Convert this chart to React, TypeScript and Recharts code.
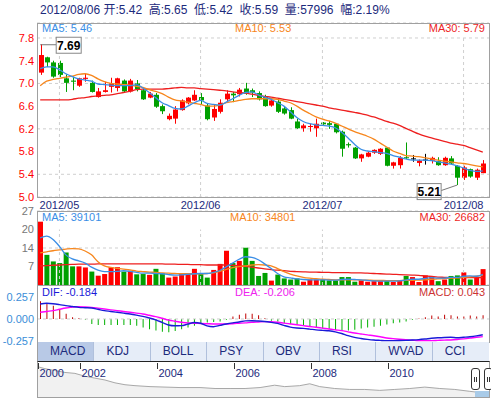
import React from "react";
import {
  ComposedChart,
  AreaChart,
  Area,
  Bar,
  Line,
  XAxis,
  YAxis,
  CartesianGrid,
  Cell,
  ReferenceDot,
  ReferenceLine,
} from "recharts";

const FONT = "Arial, 'Liberation Sans', 'Noto Sans CJK SC', sans-serif";

// trading days shown in the window
const dates = [
  "2012/04/25", "2012/04/26", "2012/04/27",
  "2012/05/02", "2012/05/03", "2012/05/04", "2012/05/07", "2012/05/08", "2012/05/09", "2012/05/10", "2012/05/11",
  "2012/05/14", "2012/05/15", "2012/05/16", "2012/05/17", "2012/05/18", "2012/05/21", "2012/05/22", "2012/05/23",
  "2012/05/24", "2012/05/25", "2012/05/28", "2012/05/29", "2012/05/30", "2012/05/31",
  "2012/06/01", "2012/06/04", "2012/06/05", "2012/06/06", "2012/06/07", "2012/06/08", "2012/06/11", "2012/06/12",
  "2012/06/13", "2012/06/14", "2012/06/15", "2012/06/18", "2012/06/19", "2012/06/20", "2012/06/25", "2012/06/26",
  "2012/06/27", "2012/06/28", "2012/06/29",
  "2012/07/02", "2012/07/03", "2012/07/04", "2012/07/05", "2012/07/06", "2012/07/09", "2012/07/10", "2012/07/11",
  "2012/07/12", "2012/07/13", "2012/07/16", "2012/07/17", "2012/07/18", "2012/07/19", "2012/07/20", "2012/07/23",
  "2012/07/24", "2012/07/25", "2012/07/26", "2012/07/27", "2012/07/30", "2012/07/31",
  "2012/08/01", "2012/08/02", "2012/08/03", "2012/08/06",
];
const monthTicks = ["2012/05/02", "2012/06/01", "2012/07/02", "2012/08/01"];

const opens = [
  7.19, 7.46, 7.37, 7.36, 7.09, 7.05, 6.96, 7.08, 7.01, 6.76,
  6.85, 6.94, 6.92, 7.05, 6.86, 7.0, 6.88, 6.75, 6.8, 6.6,
  6.37, 6.38, 6.53, 6.65, 6.7, 6.76, 6.61, 6.4, 6.5, 6.72,
  6.82, 6.81, 6.91, 6.88, 6.83, 6.76, 6.61, 6.68, 6.56, 6.53,
  6.33, 6.21, 6.24, 6.21, 6.31, 6.3, 6.29, 6.15, 5.93, 5.87,
  5.68, 5.71, 5.78, 5.76, 5.87, 5.55, 5.56, 5.7, 5.68, 5.6,
  5.66, 5.64, 5.63, 5.56, 5.68, 5.55, 5.34, 5.49, 5.34, 5.42,
];
const closes = [
  7.5, 7.37, 7.12, 7.15, 7.01, 7.03, 7.09, 7.1, 6.85, 6.86,
  6.88, 7.0, 7.09, 6.86, 7.05, 6.9, 6.72, 6.82, 6.59, 6.51,
  6.43, 6.54, 6.7, 6.75, 6.8, 6.7, 6.37, 6.55, 6.66, 6.82,
  6.79, 6.89, 6.82, 6.84, 6.72, 6.6, 6.7, 6.5, 6.47, 6.38,
  6.21, 6.26, 6.25, 6.29, 6.28, 6.27, 6.14, 5.85, 5.91, 5.68,
  5.75, 5.78, 5.83, 5.85, 5.55, 5.61, 5.69, 5.69, 5.68, 5.64,
  5.66, 5.69, 5.56, 5.69, 5.59, 5.34, 5.52, 5.36, 5.48, 5.59,
];
const highs = [
  7.69, 7.47, 7.4, 7.4, 7.16, 7.12, 7.1, 7.17, 7.05, 6.92,
  7.03, 7.1, 7.1, 7.07, 7.08, 7.06, 6.93, 6.85, 6.83, 6.63,
  6.47, 6.6, 6.72, 6.76, 6.88, 6.83, 6.65, 6.63, 6.72, 6.88,
  6.85, 6.92, 7.01, 6.91, 6.86, 6.8, 6.72, 6.73, 6.6, 6.58,
  6.38, 6.29, 6.29, 6.38, 6.32, 6.34, 6.3, 6.17, 5.96, 5.88,
  5.76, 5.8, 5.84, 5.86, 5.88, 5.62, 5.72, 5.96, 5.74, 5.66,
  5.76, 5.71, 5.7, 5.71, 5.72, 5.56, 5.55, 5.5, 5.5, 5.65,
];
const lows = [
  7.15, 7.29, 7.1, 7.11, 6.85, 6.88, 6.94, 7.03, 6.84, 6.75,
  6.84, 6.84, 6.86, 6.85, 6.84, 6.86, 6.71, 6.74, 6.57, 6.46,
  6.35, 6.29, 6.52, 6.63, 6.69, 6.62, 6.35, 6.34, 6.47, 6.68,
  6.67, 6.77, 6.8, 6.76, 6.7, 6.59, 6.59, 6.48, 6.45, 6.37,
  6.2, 6.15, 6.15, 6.06, 6.27, 6.2, 6.12, 5.71, 5.87, 5.67,
  5.62, 5.7, 5.76, 5.74, 5.54, 5.5, 5.5, 5.67, 5.62, 5.54,
  5.57, 5.59, 5.55, 5.55, 5.58, 5.21, 5.3, 5.34, 5.3, 5.42,
];
const ma5 = [
  7.26, 7.29, 7.29, 7.24, 7.17, 7.12, 7.08, 7.06, 7.04, 6.99,
  6.98, 6.97, 6.96, 6.96, 6.96, 6.98, 6.92, 6.84, 6.75, 6.66,
  6.61, 6.56, 6.55, 6.6, 6.66, 6.7, 6.65, 6.63, 6.62, 6.67,
  6.73, 6.79, 6.84, 6.85, 6.8, 6.76, 6.72, 6.66, 6.6, 6.5,
  6.4, 6.33, 6.29, 6.27, 6.26, 6.25, 6.22, 6.14, 6.04, 5.93,
  5.84, 5.81, 5.8, 5.78, 5.77, 5.73, 5.7, 5.67, 5.65, 5.65,
  5.65, 5.64, 5.62, 5.6, 5.58, 5.55, 5.51, 5.47, 5.45, 5.46,
];
const ma10 = [
  6.96, 7.04, 7.07, 7.09, 7.11, 7.13, 7.16, 7.17, 7.14, 7.08,
  7.03, 7.0, 6.99, 6.98, 6.97, 6.95, 6.93, 6.89, 6.86, 6.82,
  6.76, 6.71, 6.69, 6.67, 6.65, 6.63, 6.6, 6.6, 6.62, 6.66,
  6.68, 6.7, 6.72, 6.73, 6.73, 6.73, 6.73, 6.72, 6.69, 6.66,
  6.6, 6.53, 6.47, 6.41, 6.37, 6.34, 6.3, 6.25, 6.2, 6.15,
  6.11, 6.07, 6.02, 5.95, 5.88, 5.81, 5.77, 5.73, 5.72, 5.71,
  5.69, 5.67, 5.65, 5.63, 5.62, 5.6, 5.59, 5.57, 5.55, 5.53,
];
const ma30 = [
  6.71, 6.71, 6.71, 6.71, 6.71, 6.72, 6.74, 6.75, 6.77, 6.78,
  6.79, 6.8, 6.82, 6.84, 6.86, 6.89, 6.9, 6.9, 6.9, 6.9,
  6.91, 6.92, 6.93, 6.92, 6.92, 6.91, 6.9, 6.89, 6.88, 6.87,
  6.85, 6.84, 6.83, 6.81, 6.79, 6.77, 6.76, 6.74, 6.72, 6.7,
  6.68, 6.66, 6.64, 6.62, 6.6, 6.57, 6.55, 6.53, 6.51, 6.49,
  6.47, 6.44, 6.41, 6.37, 6.33, 6.3, 6.26, 6.21, 6.16, 6.11,
  6.07, 6.04, 6.01, 5.98, 5.95, 5.93, 5.91, 5.87, 5.83, 5.79,
];

// volume in 万 shares
const vols = [
  23.1, 11.0, 8.6, 8.0, 11.9, 6.8, 6.8, 6.4, 4.9, 3.4,
  4.0, 6.5, 6.5, 4.9, 5.2, 3.9, 4.0, 3.7, 5.9, 4.3,
  2.7, 3.1, 4.3, 4.3, 5.9, 4.0, 2.7, 5.5, 7.7, 12.5,
  8.0, 8.8, 13.6, 8.8, 3.3, 4.4, 1.6, 3.8, 2.4, 2.0,
  2.4, 1.2, 2.0, 2.0, 2.0, 1.7, 1.7, 2.9, 2.9, 1.2,
  1.7, 1.2, 1.4, 1.4, 1.7, 1.1, 1.7, 3.3, 2.9, 1.1,
  3.5, 3.3, 1.4, 2.0, 3.3, 3.5, 4.6, 2.0, 2.7, 5.8,
];
const volMa5 = [
  17.2, 17.8, 16.6, 14.1, 11.0, 9.5, 8.8, 8.0, 6.5, 5.4,
  4.9, 4.9, 5.0, 5.2, 5.0, 4.6, 4.3, 4.3, 4.2, 4.1,
  3.8, 3.6, 3.7, 3.9, 4.1, 4.2, 4.2, 4.6, 5.3, 6.6,
  8.0, 9.4, 10.3, 10.1, 9.2, 7.7, 6.0, 4.2, 3.0, 2.6,
  2.2, 2.0, 1.9, 1.9, 1.9, 1.8, 1.8, 2.0, 2.1, 2.0,
  1.9, 1.7, 1.5, 1.4, 1.4, 1.4, 1.5, 1.8, 2.1, 2.1,
  2.4, 2.7, 2.5, 2.5, 2.8, 2.8, 3.2, 3.3, 3.2, 3.9,
];
const volMa10 = [
  11.7, 12.1, 12.5, 12.8, 13.1, 13.3, 13.2, 12.4, 11.0, 8.5,
  7.0, 6.4, 6.1, 5.8, 5.5, 5.1, 4.9, 4.7, 4.6, 4.4,
  4.3, 4.2, 4.1, 4.1, 4.1, 4.1, 4.2, 4.4, 5.0, 5.7,
  6.3, 6.7, 7.0, 7.3, 7.4, 7.3, 7.0, 6.0, 4.9, 4.0,
  3.3, 2.8, 2.5, 2.3, 2.1, 2.0, 1.9, 1.9, 1.9, 1.9,
  1.8, 1.8, 1.7, 1.7, 1.6, 1.6, 1.6, 1.7, 1.7, 1.8,
  1.9, 2.1, 2.2, 2.3, 2.5, 2.6, 2.8, 3.0, 3.2, 3.5,
];
const volMa30 = [
  7.0, 7.1, 7.2, 7.3, 7.4, 7.5, 7.6, 7.6, 7.6, 7.7,
  7.7, 7.7, 7.7, 7.7, 7.7, 7.7, 7.7, 7.7, 7.7, 7.7,
  7.6, 7.6, 7.5, 7.5, 7.4, 7.4, 7.3, 7.3, 7.3, 7.3,
  7.2, 7.0, 6.8, 6.5, 6.2, 5.9, 5.6, 5.4, 5.2, 5.0,
  4.9, 4.8, 4.7, 4.7, 4.6, 4.6, 4.5, 4.5, 4.5, 4.4,
  4.4, 4.3, 4.2, 4.1, 4.0, 3.9, 3.8, 3.7, 3.6, 3.5,
  3.3, 3.1, 2.9, 2.8, 2.7, 2.7, 2.7, 2.7, 2.7, 2.7,
];

const dif = [
  0.175, 0.183, 0.178, 0.168, 0.156, 0.146, 0.136, 0.132, 0.128, 0.113,
  0.097, 0.088, 0.078, 0.068, 0.058, 0.045, 0.03, 0.012, -0.01, -0.04,
  -0.07, -0.08, -0.078, -0.06, -0.042, -0.05, -0.08, -0.09, -0.075, -0.058,
  -0.045, -0.035, -0.022, -0.02, -0.024, -0.03, -0.04, -0.052, -0.075, -0.095,
  -0.105, -0.11, -0.118, -0.127, -0.133, -0.138, -0.15, -0.17, -0.195, -0.215,
  -0.228, -0.238, -0.246, -0.25, -0.253, -0.253, -0.252, -0.25, -0.246, -0.241,
  -0.234, -0.226, -0.22, -0.216, -0.214, -0.22, -0.214, -0.208, -0.198, -0.184,
];
const dea = [
  0.078, 0.088, 0.097, 0.113, 0.128, 0.138, 0.144, 0.141, 0.136, 0.127,
  0.117, 0.107, 0.097, 0.088, 0.078, 0.068, 0.058, 0.043, 0.027, 0.008,
  -0.012, -0.026, -0.039, -0.045, -0.05, -0.052, -0.055, -0.058, -0.058, -0.058,
  -0.055, -0.05, -0.045, -0.039, -0.035, -0.031, -0.033, -0.039, -0.048, -0.058,
  -0.068, -0.078, -0.088, -0.097, -0.107, -0.117, -0.127, -0.136, -0.15, -0.164,
  -0.175, -0.186, -0.196, -0.208, -0.222, -0.23, -0.237, -0.243, -0.248, -0.253,
  -0.253, -0.253, -0.25, -0.247, -0.245, -0.24, -0.233, -0.224, -0.214, -0.206,
];
const macd = [
  0.206, 0.18, 0.155, 0.105, 0.06, 0.02, 0.01, -0.01, -0.06, -0.07,
  -0.07, -0.07, -0.07, -0.07, -0.07, -0.08, -0.1, -0.12, -0.135, -0.15,
  -0.156, -0.14, -0.12, -0.1, -0.08, -0.06, -0.04, -0.035, -0.03, -0.01,
  0.03, 0.05, 0.065, 0.06, 0.045, 0.01, -0.02, -0.03, -0.05, -0.06,
  -0.07, -0.075, -0.085, -0.095, -0.11, -0.12, -0.13, -0.14, -0.135, -0.125,
  -0.11, -0.1, -0.09, -0.08, -0.065, -0.05, -0.04, -0.03, -0.01, 0.005,
  0.02, 0.04, 0.03, 0.05, 0.045, 0.03, 0.03, 0.04, 0.03, 0.043,
];

// long history for the navigator strip
const navYears = [
  2000.91, 2001.09, 2001.35, 2001.61, 2001.87, 2002.13, 2002.39, 2002.65, 2002.91, 2003.17,
  2003.43, 2003.82, 2004.21, 2004.6, 2005.12, 2005.51, 2005.9, 2006.29, 2006.68, 2007.06,
  2007.32, 2007.71, 2007.97, 2008.23, 2008.62, 2009.01, 2009.4, 2009.79, 2010.18, 2010.57,
  2010.96, 2011.35, 2011.74, 2012.13, 2012.55,
];
const navPrices = [
  32, 30, 28, 26, 25, 22, 20, 18, 15, 13,
  12, 11, 10.5, 10, 10, 9, 9, 9, 10, 12.5,
  11, 12, 14, 11, 9, 8, 8, 7, 8, 9,
  10.5, 9, 8, 6, 4,
];
const navTicks = [navYears[0], 2002, 2004, 2006, 2008, 2010];

const tabs = ["MACD", "KDJ", "BOLL", "PSY", "OBV", "RSI", "WVAD", "CCI"];

const rows = dates.map((date, i) => ({
  date,
  open: opens[i],
  high: highs[i],
  low: lows[i],
  close: closes[i],
  ma5: ma5[i],
  ma10: ma10[i],
  ma30: ma30[i],
  vol: vols[i],
  vma5: volMa5[i],
  vma10: volMa10[i],
  vma30: volMa30[i],
  dif: dif[i],
  dea: dea[i],
  macd: macd[i],
}));
const navRows = navYears.map((t, i) => ({ t, v: navPrices[i] }));
const navNav = navRows; // keep reference simple

const W = 491;
const RED = "#ff0000";
const GREEN = "#00a000";
const NAVY = "#1c2a7c";
const GRID = "#cfcfcf";
const FRAME = "#a0a0a0";
const C_MA5 = "#3a8ee6";
const C_MA10 = "#f7861c";
const C_MA30 = "#ee1f1f";

const hiIdx = highs.indexOf(Math.max(...highs));
const loIdx = lows.indexOf(Math.min(...lows));

const candleColor = (d: any) => (d.close > d.open ? RED : d.close < d.open ? GREEN : "#000");

function Candle(props: any) {
  const { x, y, width, height, payload } = props;
  if (x == null || !payload) return null;
  const { open, close, high, low } = payload;
  const span = high - low || 1;
  const h = Math.abs(height);
  const top = Math.min(y, y + height);
  const py = (v: number) => top + ((high - v) / span) * h;
  const bTop = py(Math.max(open, close));
  const bBot = py(Math.min(open, close));
  const c = candleColor(payload);
  const cx = Math.round(x + width / 2) + 0.5;
  return (
    <g>
      <line x1={cx} x2={cx} y1={top} y2={top + h} stroke={c} strokeWidth={1} />
      <rect x={cx - 2.5} y={bTop} width={5} height={Math.max(bBot - bTop, 1)} fill={c} />
    </g>
  );
}

function HighTag({ cx, cy, text }: any) {
  if (cx == null) return null;
  return (
    <g>
      <line x1={cx} y1={cy + 0.5} x2={cx + 16} y2={cy + 0.5} stroke="#777" />
      <rect x={cx + 16} y={cy - 7} width={25} height={16} fill="#fff" stroke="#888" />
      <text x={cx + 28.5} y={cy + 5.5} textAnchor="middle" fontSize={12} fontWeight="bold" fontFamily={FONT} fill="#000">
        {text}
      </text>
    </g>
  );
}

function LowTag({ cx, cy, text }: any) {
  if (cx == null) return null;
  return (
    <g>
      <line x1={cx} y1={cy} x2={cx - 16} y2={cy + 5.5} stroke="#777" />
      <rect x={cx - 40} y={cy - 1.5} width={24} height={16} fill="#fff" stroke="#888" />
      <text x={cx - 28} y={cy + 11} textAnchor="middle" fontSize={12} fontWeight="bold" fontFamily={FONT} fill="#000">
        {text}
      </text>
    </g>
  );
}

function NavTick(props: any) {
  const { x, payload } = props;
  const px = Math.round(x) + 0.5;
  return (
    <g>
      <line x1={px} x2={px} y1={1} y2={7} stroke="#333" />
      <text x={px + 1} y={15} fontSize={11} fontFamily={FONT} fill={NAVY}>
        {Math.floor(payload.value)}
      </text>
    </g>
  );
}

const legend = (top: number, items: { text: string; color: string; left?: number; right?: number }[]) =>
  items.map((it, i) => (
    <div
      key={i}
      style={{
        position: "absolute",
        top,
        left: it.left,
        right: it.right,
        fontSize: 11,
        lineHeight: "13px",
        color: it.color,
        fontFamily: FONT,
        whiteSpace: "nowrap",
      }}
    >
      {it.text}
    </div>
  ));

const axisTick = (fill: string) => ({ fill, fontSize: 11, fontFamily: FONT });

export default function App() {
  return (
    <div style={{ position: "absolute", left: 0, top: 0, width: W, height: 399, background: "#fff", overflow: "hidden" }}>
      <div
        style={{
          position: "absolute",
          left: 40,
          top: 3,
          fontSize: 12,
          lineHeight: "14px",
          color: NAVY,
          fontFamily: FONT,
          whiteSpace: "pre",
        }}
      >
        2012/08/06 开:5.42  高:5.65  低:5.42  收:5.59  量:57996  幅:2.19%
      </div>

      {/* price */}
      <div style={{ position: "absolute", left: 0, top: 0 }}>
        <ComposedChart width={W} height={215} data={rows} margin={{ top: 23, right: 2, bottom: 0, left: 0 }}>
          <CartesianGrid stroke={GRID} strokeDasharray="3 3" vertical={false} />
          <XAxis
            dataKey="date"
            ticks={monthTicks}
            interval={0}
            tickFormatter={(d: string) => d.slice(0, 7)}
            height={18}
            padding={{ left: 0, right: 3 }}
            axisLine={false}
            tickLine={false}
            tickSize={4}
            tickMargin={0}
            tick={axisTick(NAVY)}
          />
          <YAxis
            domain={[5.0, 8.064]}
            ticks={[5.0, 5.4, 5.8, 6.2, 6.6, 7.0, 7.4, 7.8]}
            tickFormatter={(v: number) => v.toFixed(1)}
            width={37}
            axisLine={false}
            tickLine={false}
            tickSize={3}
            tickMargin={0}
            tick={axisTick(RED)}
          />
          {monthTicks.map((m) => (
            <ReferenceLine
              key={m}
              segment={[
                { x: m, y: 5.0 },
                { x: m, y: 7.8 },
              ]}
              stroke={GRID}
              strokeDasharray="3 3"
            />
          ))}
          <Bar
            dataKey={(d: any) => [d.low, d.high]}
            barSize={5}
            isAnimationActive={false}
            shape={(p: any) => <Candle {...p} />}
          />
          <Line dataKey="ma30" type="monotone" stroke={C_MA30} strokeWidth={1.3} dot={false} isAnimationActive={false} />
          <Line dataKey="ma10" type="monotone" stroke={C_MA10} strokeWidth={1.3} dot={false} isAnimationActive={false} />
          <Line dataKey="ma5" type="monotone" stroke={C_MA5} strokeWidth={1.3} dot={false} isAnimationActive={false} />
          <ReferenceDot
            x={dates[hiIdx]}
            y={highs[hiIdx]}
            r={0}
            ifOverflow="visible"
            shape={(p: any) => <HighTag {...p} text={highs[hiIdx].toFixed(2)} />}
          />
          <ReferenceDot
            x={dates[loIdx]}
            y={lows[loIdx]}
            r={0}
            ifOverflow="visible"
            shape={(p: any) => <LowTag {...p} text={lows[loIdx].toFixed(2)} />}
          />
        </ComposedChart>
      </div>

      {/* volume */}
      <div style={{ position: "absolute", left: 0, top: 203 }}>
        <ComposedChart width={W} height={83} data={rows} margin={{ top: 8, right: 2, bottom: 1, left: 0 }}>
          <CartesianGrid stroke={GRID} strokeDasharray="3 3" vertical={false} />
          <XAxis
            dataKey="date"
            ticks={monthTicks}
            interval={0}
            height={0}
            tick={false}
            axisLine={false}
            tickLine={false}
            padding={{ left: 0, right: 3 }}
          />
          <YAxis
            domain={[0, 27]}
            ticks={[0, 6.75, 13.5, 20.25, 27]}
            tickFormatter={(v: number) => (v === 0 ? "x万" : String(Math.round(v)))}
            width={37}
            axisLine={false}
            tickLine={false}
            tickSize={3}
            tickMargin={0}
            tick={axisTick("#777")}
          />
          {monthTicks.map((m) => (
            <ReferenceLine
              key={m}
              segment={[
                { x: m, y: 0 },
                { x: m, y: 20.25 },
              ]}
              stroke={GRID}
              strokeDasharray="3 3"
            />
          ))}
          <Bar dataKey="vol" barSize={5} isAnimationActive={false}>
            {rows.map((d, i) => (
              <Cell key={i} fill={d.close >= d.open ? RED : GREEN} />
            ))}
          </Bar>
          <Line dataKey="vma30" type="monotone" stroke={C_MA30} strokeWidth={1.3} dot={false} isAnimationActive={false} />
          <Line dataKey="vma10" type="monotone" stroke={C_MA10} strokeWidth={1.3} dot={false} isAnimationActive={false} />
          <Line dataKey="vma5" type="monotone" stroke={C_MA5} strokeWidth={1.3} dot={false} isAnimationActive={false} />
        </ComposedChart>
      </div>

      {/* macd */}
      <div style={{ position: "absolute", left: 0, top: 280 }}>
        <ComposedChart width={W} height={70} data={rows} margin={{ top: 5, right: 2, bottom: 8, left: 0 }}>
          <XAxis
            dataKey="date"
            height={0}
            tick={false}
            axisLine={false}
            tickLine={false}
            padding={{ left: 0, right: 3 }}
          />
          <YAxis
            domain={[-0.269, 0.397]}
            ticks={[-0.257, 0, 0.257]}
            tickFormatter={(v: number) => v.toFixed(3)}
            width={37}
            axisLine={false}
            tickLine={false}
            tickSize={3}
            tickMargin={0}
            tick={axisTick("#3a8ed8")}
          />
          <ReferenceLine y={0} stroke={GRID} strokeDasharray="3 3" />
          <Bar dataKey="macd" barSize={1} isAnimationActive={false}>
            {rows.map((d, i) => (
              <Cell key={i} fill={d.macd >= 0 ? "#c00000" : "#00b000"} />
            ))}
          </Bar>
          <Line dataKey="dea" type="monotone" stroke="#ff00ff" strokeWidth={1.4} dot={false} isAnimationActive={false} />
          <Line dataKey="dif" type="monotone" stroke="#1a1ad8" strokeWidth={1.4} dot={false} isAnimationActive={false} />
        </ComposedChart>
      </div>

      {/* frames */}
      <div style={{ position: "absolute", left: 37, top: 23, width: 453, height: 175, border: `1px solid ${FRAME}`, boxSizing: "border-box" }} />
      <div style={{ position: "absolute", left: 37, top: 211, width: 453, height: 75, border: `1px solid ${FRAME}`, boxSizing: "border-box" }} />
      <div style={{ position: "absolute", left: 37, top: 285, width: 453, height: 58, border: `1px solid ${FRAME}`, boxSizing: "border-box" }} />

      {legend(22, [
        { text: "MA5: 5.46", color: C_MA5, left: 42 },
        { text: "MA10: 5.53", color: C_MA10, left: 235 },
        { text: "MA30: 5.79", color: C_MA30, right: 6 },
      ])}
      {legend(211, [
        { text: "MA5: 39101", color: C_MA5, left: 42 },
        { text: "MA10: 34801", color: C_MA10, left: 230 },
        { text: "MA30: 26682", color: C_MA30, right: 6 },
      ])}
      {legend(286, [
        { text: "DIF: -0.184", color: "#1a1ad8", left: 42 },
        { text: "DEA: -0.206", color: "#ee22ee", left: 235 },
        { text: "MACD: 0.043", color: "#cc3333", right: 6 },
      ])}

      {/* indicator tabs */}
      <div
        style={{
          position: "absolute",
          left: 37,
          top: 342,
          width: 452,
          height: 19,
          display: "flex",
          background: "#e6edf8",
          borderLeft: `1px solid ${FRAME}`,
          boxSizing: "border-box",
        }}
      >
        {tabs.map((t, i) => (
          <div
            key={t}
            style={{
              width: 56.5,
              height: 19,
              boxSizing: "border-box",
              paddingLeft: 12,
              fontSize: 12,
              lineHeight: "19px",
              color: NAVY,
              fontFamily: FONT,
              background: i === 0 ? "#b8c9e6" : "transparent",
              borderRight: i < tabs.length - 1 ? "1px solid #b0c0dc" : "none",
            }}
          >
            {t}
          </div>
        ))}
      </div>

      {/* navigator */}
      <div
        style={{
          position: "absolute",
          left: 37,
          top: 361,
          width: 453,
          height: 37,
          borderTop: "1px solid #222",
          borderLeft: `1px solid ${FRAME}`,
          borderRight: `1px solid ${FRAME}`,
          borderBottom: `1px solid ${FRAME}`,
          boxSizing: "border-box",
          background: "#fff",
        }}
      >
        <AreaChart width={451} height={35} data={navNav} margin={{ top: 0, right: 3, bottom: 0, left: 0 }}>
          <XAxis
            dataKey="t"
            type="number"
            domain={[navYears[0], navYears[navYears.length - 1]]}
            ticks={navTicks}
            interval={0}
            orientation="top"
            height={1}
            axisLine={false}
            tickLine={false}
            tick={(p: any) => <NavTick {...p} />}
          />
          <YAxis hide domain={[0, 36]} />
          <Area dataKey="v" type="linear" stroke="#a8a8a8" strokeWidth={1} fill="#f1f1f1" fillOpacity={1} isAnimationActive={false} />
        </AreaChart>
        <div style={{ position: "absolute", left: 437, top: 29, width: 14, height: 6, background: "#a9cbe8" }} />
        {[433, 446].map((l) => (
          <div
            key={l}
            style={{
              position: "absolute",
              left: l,
              top: 6,
              width: 9,
              height: 22,
              background: "#fff",
              border: "1px solid #333",
              borderRadius: 3,
              boxSizing: "border-box",
            }}
          >
            <div style={{ position: "absolute", left: 2, top: 8, width: 1, height: 5, background: "#333" }} />
            <div style={{ position: "absolute", left: 4, top: 8, width: 1, height: 5, background: "#333" }} />
          </div>
        ))}
      </div>
    </div>
  );
}
